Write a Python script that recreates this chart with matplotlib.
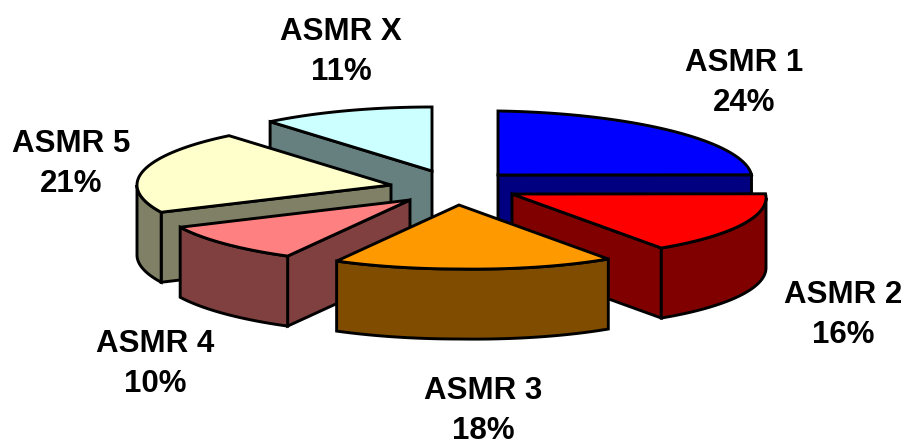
import numpy as np
import matplotlib
matplotlib.use('Agg')
import matplotlib.pyplot as plt
from matplotlib.patches import Polygon

plt.rcParams['font.family'] = ['Liberation Sans', 'DejaVu Sans']

names = ['ASMR 1', 'ASMR 2', 'ASMR 3', 'ASMR 4', 'ASMR 5', 'ASMR X']
shares = [24, 16, 18, 10, 21, 11]

top_colors = ['#0000FF', '#FF0000', '#FF9900', '#FF8080', '#FFFFCC', '#CCFFFF']
side_colors = ['#000080', '#800000', '#804D00', '#804040', '#808066', '#668080']

# exploded slice apexes on the canvas, plus the label anchors
apex = [(498, 175), (512, 194), (459, 205), (410, 200), (391, 185), (432, 171)]
label_xy = [(744, 83), (843, 315), (483, 411), (155, 364), (71, 164), (341, 52)]
rx, ry, depth = 254, 64, 70
sag = 0.015  # the right half of the disc droops slightly in perspective
draw_order = [5, 0, 4, 1, 3, 2]


def rim(i, a, b):
    t = np.radians(np.linspace(a, b, 80))
    dx = rx*np.sin(t)
    return np.column_stack([apex[i][0] + dx,
                            apex[i][1] - ry*np.cos(t) + sag*np.maximum(dx, 0)])


def add_poly(ax, pts, color):
    ax.add_patch(Polygon(pts, closed=True, facecolor=color, edgecolor='black',
                         linewidth=2.1, joinstyle='miter'))


def cut_face(ax, i, ang):
    edge = np.array([apex[i], rim(i, ang, ang)[0]])
    add_poly(ax, np.vstack([edge, edge[::-1] + [0, depth]]), side_colors[i])


fig = plt.figure(figsize=(9.05, 4.43), dpi=100)
ax = fig.add_axes([0, 0, 1, 1])
ax.set_xlim(0, 905)
ax.set_ylim(443, 0)
ax.axis('off')

ends = np.cumsum(shares) * 3.6
starts = ends - np.array(shares) * 3.6

for i in draw_order:
    a, b = starts[i], ends[i]
    # radial faces turned towards the viewer
    if a >= 180:
        cut_face(ax, i, a)
    if b <= 180:
        cut_face(ax, i, b)
    # front part of the outer wall
    lo, hi = max(a, 90), min(b, 270)
    if lo < hi:
        arc = rim(i, lo, hi)
        add_poly(ax, np.vstack([arc, arc[::-1] + [0, depth]]), side_colors[i])
    add_poly(ax, np.vstack([[apex[i]], rim(i, a, b)]), top_colors[i])

for name, share, (x, y) in zip(names, shares, label_xy):
    ax.text(x, y, f'{name}\n{share}%', ha='center', va='center', fontsize=22.5,
            fontweight='bold', color='black', linespacing=1.45)

fig.savefig('out.png', dpi=100)
